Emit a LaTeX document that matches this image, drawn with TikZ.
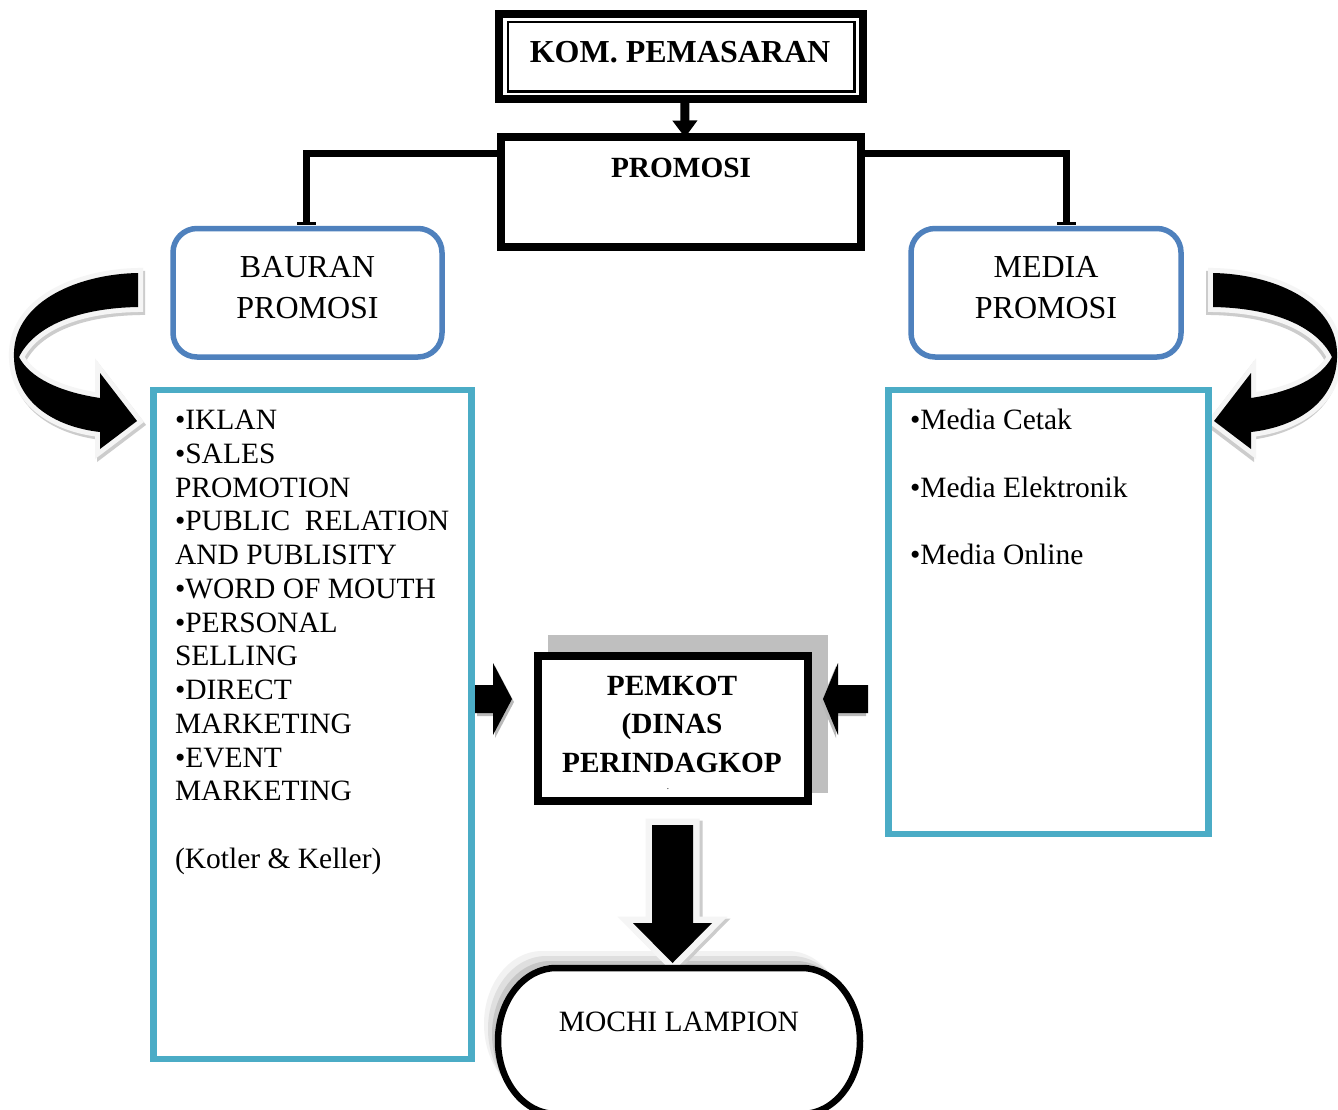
\documentclass[tikz,border=0pt]{standalone}
\usepackage{fontspec}
\setmainfont{Liberation Serif}
\usetikzlibrary{arrows.meta}
\definecolor{colBlue}{HTML}{4F81BD}
\definecolor{colCyan}{HTML}{4BACC6}
\begin{document}
\begin{tikzpicture}[x=1pt,y=-1pt,
  every node/.style={inner sep=0pt,outer sep=0pt},
  txt/.style={font=\fontsize{29.5}{33.77}\selectfont},
  bigtxt/.style={font=\fontsize{32}{41}\selectfont},
  boldtxt/.style={font=\bfseries\fontsize{29.3}{38.5}\selectfont},
  blackbox/.style={draw=black,line width=8pt,rectangle,fill=white},
  roundbox/.style={draw=colBlue,line width=5.5pt,rectangle,rounded corners=24pt,fill=white},
  listbox/.style={draw=colCyan,line width=6.5pt,rectangle,fill=white},
  link/.style={draw=black,line width=7pt},
  glow/.style={draw=gray!8,line width=10pt,line join=miter},
  glowshade/.style={draw=gray!40,line width=10pt,line join=miter},
]
\fill[white] (0,0) rectangle (1338,1110);
\useasboundingbox (0,0) rectangle (1338,1110);

% curved arrows
\def\carrow{(138,273) .. controls (80,274) and (16,300) .. (14,352) .. controls (12,402) and (55,427) .. (100,432) -- (100,449) -- (137,421) -- (100,373) -- (100,398) .. controls (60,392) and (30,378) .. (19,357) .. controls (35,325) and (80,308) .. (138,307) -- cycle}
\draw[glowshade,shift={(2,3)}] \carrow;
\draw[glow] \carrow;
\fill[black] \carrow;
\begin{scope}[shift={(1351,0)},xscale=-1]
\draw[glowshade,shift={(2,3)}] \carrow;
\draw[glow] \carrow;
\fill[black] \carrow;
\end{scope}

% top boxes
\node[blackbox,minimum width=363.5pt,minimum height=85pt] (kom) at (680.75,56.5) {};
\node[draw=black,line width=2.5pt,minimum width=346.5pt,minimum height=69.5pt] (komin) at (681.25,56.75) {};
\node[font=\bfseries\fontsize{32}{38}\selectfont] (komtxt) at (680,52) {KOM. PEMASARAN};

\node[blackbox,minimum width=360pt,minimum height=109pt] (promosi) at (681,192) {};
\node[boldtxt] (promtxt) at (681,168) {PROMOSI};

\draw[line width=9pt,-{Triangle[length=17pt,width=24pt]}] ([xshift=4pt]kom.south) -- ([xshift=4pt]promosi.north);

% blue boxes
\node[roundbox,minimum width=269pt,minimum height=128.5pt] (bauran) at (307.5,292.75) {};
\node[bigtxt,align=center] (baurantxt) at (307.5,287.5) {BAURAN\\PROMOSI};
\node[roundbox,minimum width=270pt,minimum height=128.5pt] (media) at (1046,292.75) {};
\node[bigtxt,align=center] (mediatxt) at (1046,287.5) {MEDIA\\PROMOSI};

\draw[link,-{Bar[width=19pt,line width=3pt 0 1]},shorten >=4pt] ([yshift=-16pt]promosi.north west) -| ([xshift=-1.5pt]bauran.north);
\draw[link,-{Bar[width=19pt,line width=3pt 0 1]},shorten >=4pt] ([yshift=-16pt]promosi.north east) -| ([xshift=20pt]media.north);

% list boxes
\node[listbox,minimum width=318pt,minimum height=669pt] (leftlist) at (312.5,724.5) {};
\node[txt,align=left,anchor=north west] (lefttxt) at (175,410) {•IKLAN\\•SALES\\PROMOTION\\•PUBLIC\ \ RELATION\\AND PUBLISITY\\•WORD OF MOUTH\\•PERSONAL\\SELLING\\•DIRECT\\MARKETING\\•EVENT\\MARKETING\\[33.77pt](Kotler \& Keller)};
\node[listbox,minimum width=320pt,minimum height=444pt] (rightlist) at (1048.5,612) {};
\node[font=\fontsize{29.5}{67.5}\selectfont,align=left,anchor=north west] (righttxt) at (910,409.5) {•Media Cetak\\•Media Elektronik\\•Media Online};

% PEMKOT
\node[fill=gray!50,minimum width=280pt,minimum height=158pt] (pemkotshadow) at (688,714) {};
\node[blackbox,minimum width=270pt,minimum height=145pt] (pemkot) at (672.5,728.5) {};
\node[boldtxt,align=center,anchor=north] (pemkottxt) at (672,676) {PEMKOT\\(DINAS\\PERINDAGKOP};
\node[font=\fontsize{9}{9}\selectfont] (dot) at (668,789) {.};

% small block arrows
\fill[gray!55,shift={(2,3)}] (475,685) -- (493,685) -- (493,663) -- (512,699) -- (493,735) -- (493,713) -- (475,713) -- cycle;
\fill[black] (475,685) -- (493,685) -- (493,663) -- (512,699) -- (493,735) -- (493,713) -- (475,713) -- cycle;
\fill[gray!55,shift={(-2,3)}] (868,685) -- (838,685) -- (838,663) -- (823,699) -- (838,735) -- (838,713) -- (868,713) -- cycle;
\fill[black] (868,685) -- (838,685) -- (838,663) -- (823,699) -- (838,735) -- (838,713) -- (868,713) -- cycle;

% MOCHI
\def\mochipath{(556,968) -- (802,968) .. controls (834,968) and (860,1000.7) .. (860,1041) .. controls (860,1081.3) and (834,1114) .. (802,1114) -- (556,1114) .. controls (524,1114) and (498,1081.3) .. (498,1041) .. controls (498,1000.7) and (524,968) .. (556,968) -- cycle}
\fill[gray!10,shift={(-14,-17)}] \mochipath;
\fill[gray!25,shift={(-10,-12)}] \mochipath;
\fill[gray!45,shift={(-6,-7)}] \mochipath;

% down arrow
\def\downpath{(652,825) -- (693,825) -- (693,923) -- (712,923) -- (672.5,963) -- (633,923) -- (652,923) -- cycle}
\draw[draw=gray!40,line width=13pt,line join=miter,shift={(3,2)}] \downpath;
\draw[draw=gray!8,line width=13pt,line join=miter] \downpath;
\fill[black] \downpath;

\draw[line width=6.5pt,fill=white] \mochipath;
\node[txt] (mochi) at (679,1022) {MOCHI LAMPION};
\end{tikzpicture}
\end{document}
